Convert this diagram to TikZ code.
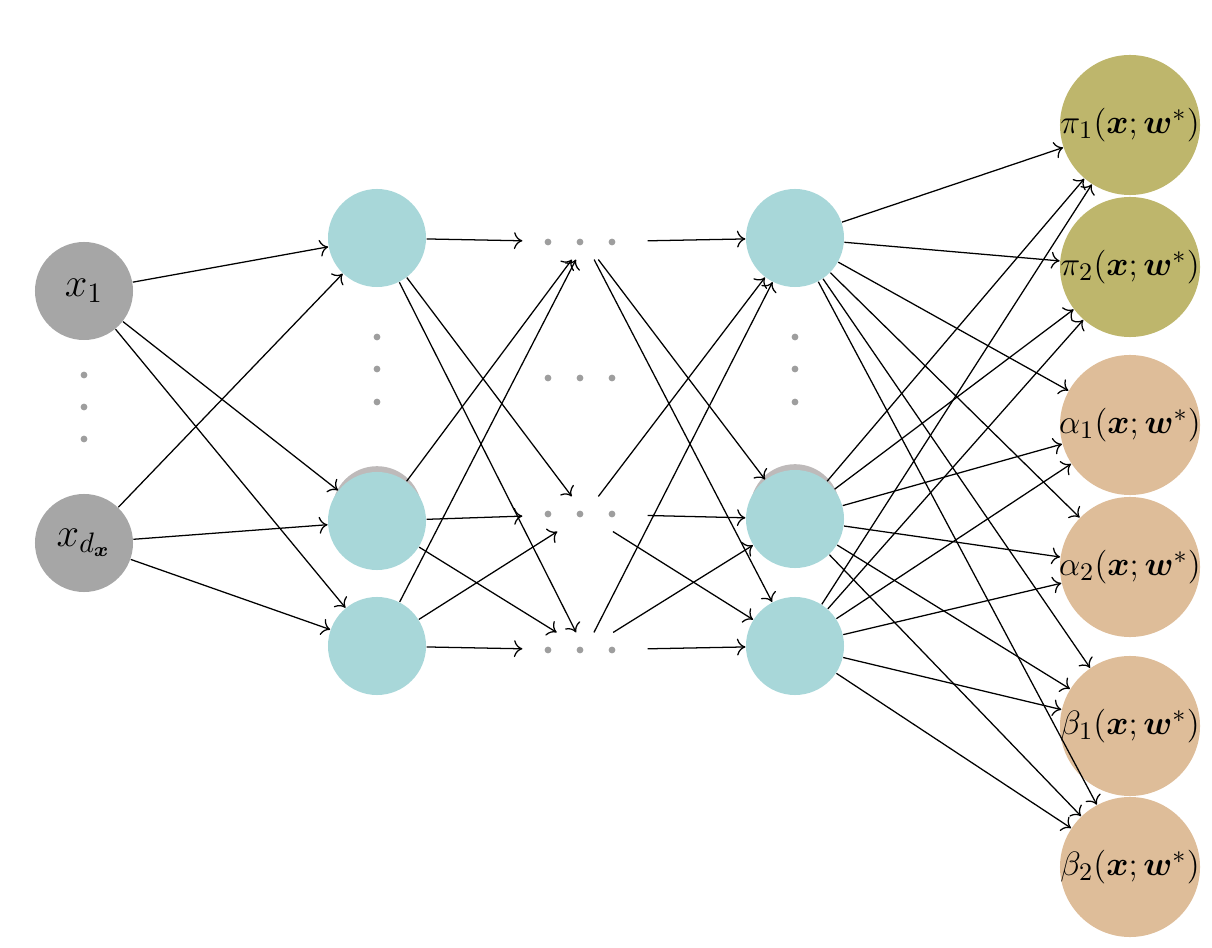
\documentclass[tikz,border=0pt]{standalone}
\usepackage{amsmath}
\usepackage{bm}
\usetikzlibrary{arrows.meta}

\definecolor{inputgray}{RGB}{166,166,166}
\definecolor{hiddenteal}{RGB}{168,215,217}
\definecolor{capgray}{RGB}{190,186,186}
\definecolor{piolive}{RGB}{190,182,108}
\definecolor{abtan}{RGB}{222,189,153}
\definecolor{dotgray}{RGB}{158,158,158}

\begin{document}
\begin{tikzpicture}[x=0.0125cm,y=-0.0125cm,
  unit/.style={circle, inner sep=0pt, minimum size=1.225cm},
  inp/.style={unit, fill=inputgray, font=\fontsize{14}{17}\selectfont},
  hid/.style={unit, fill=hiddenteal},
  outp/.style={circle, inner sep=0pt, minimum size=1.75cm},
  outlab/.style={label={[font=\fontsize{12.4}{15}\selectfont, inner sep=0pt]center:#1}},
  pinode/.style={outp, fill=piolive, outlab={#1}},
  abnode/.style={outp, fill=abtan, outlab={#1}},
  group/.style={rectangle, inner sep=0pt, minimum width=1.55cm, minimum height=0.425cm},
  dot/.style={circle, inner sep=0pt, minimum size=0.085cm, fill=dotgray},
  conn/.style={-{To[length=3pt,width=6pt]}, line width=0.45pt, black},
]
\useasboundingbox (0,0) rectangle (1212,948);

% input layer
\node[inp] (in1) at (84,291) {$x_1$};
\node[inp] (in2) at (84,543) {$x_{d_{\bm{x}}}$};
\foreach \y in {375,407,439} \node[dot] at (84,\y) {};

% first hidden layer (the middle unit sits on a faint grey disc)
\fill[capgray] (377,511) circle[radius=0.56cm];
\node[hid] (a1) at (377,238) {};
\node[hid] (a2) at (377,521) {};
\node[hid] (a3) at (377,646) {};
\foreach \y in {337,369,402} \node[dot] at (377,\y) {};

% elided intermediate layers
\node[group] (m1) at (585,242) {};
\node[group] (m2) at (585,514) {};
\node[group] (m3) at (585,650) {};
\foreach \y in {242,378,514,650}
  \foreach \x in {548,580,612} \node[dot] at (\x,\y) {};

% last hidden layer
\fill[capgray] (795,509) circle[radius=0.56cm];
\node[hid] (b1) at (795,238) {};
\node[hid] (b2) at (795,519) {};
\node[hid] (b3) at (795,646) {};
\foreach \y in {337,369,402} \node[dot] at (795,\y) {};

% mixture outputs
\node[pinode={$\pi_1(\bm{x};\bm{w}^*)$}] (o1) at (1130,125) {};
\node[pinode={$\pi_2(\bm{x};\bm{w}^*)$}] (o2) at (1130,267) {};
\node[abnode={$\alpha_1(\bm{x};\bm{w}^*)$}] (o3) at (1130,425) {};
\node[abnode={$\alpha_2(\bm{x};\bm{w}^*)$}] (o4) at (1130,567) {};
\node[abnode={$\beta_1(\bm{x};\bm{w}^*)$}] (o5) at (1130,726) {};
\node[abnode={$\beta_2(\bm{x};\bm{w}^*)$}] (o6) at (1130,867) {};

% connections
\foreach \s in {in1,in2}
  \foreach \t in {a1,a2,a3} \draw[conn] (\s) -- (\t);
\foreach \s in {a1,a2,a3}
  \foreach \t in {m1,m2,m3} \draw[conn] (\s) -- (\t);
\foreach \s in {m1,m2,m3}
  \foreach \t in {b1,b2,b3} \draw[conn] (\s) -- (\t);
\foreach \s in {b1,b2,b3}
  \foreach \t in {o1,o2,o3,o4,o5,o6} \draw[conn] (\s) -- (\t);
\end{tikzpicture}
\end{document}
